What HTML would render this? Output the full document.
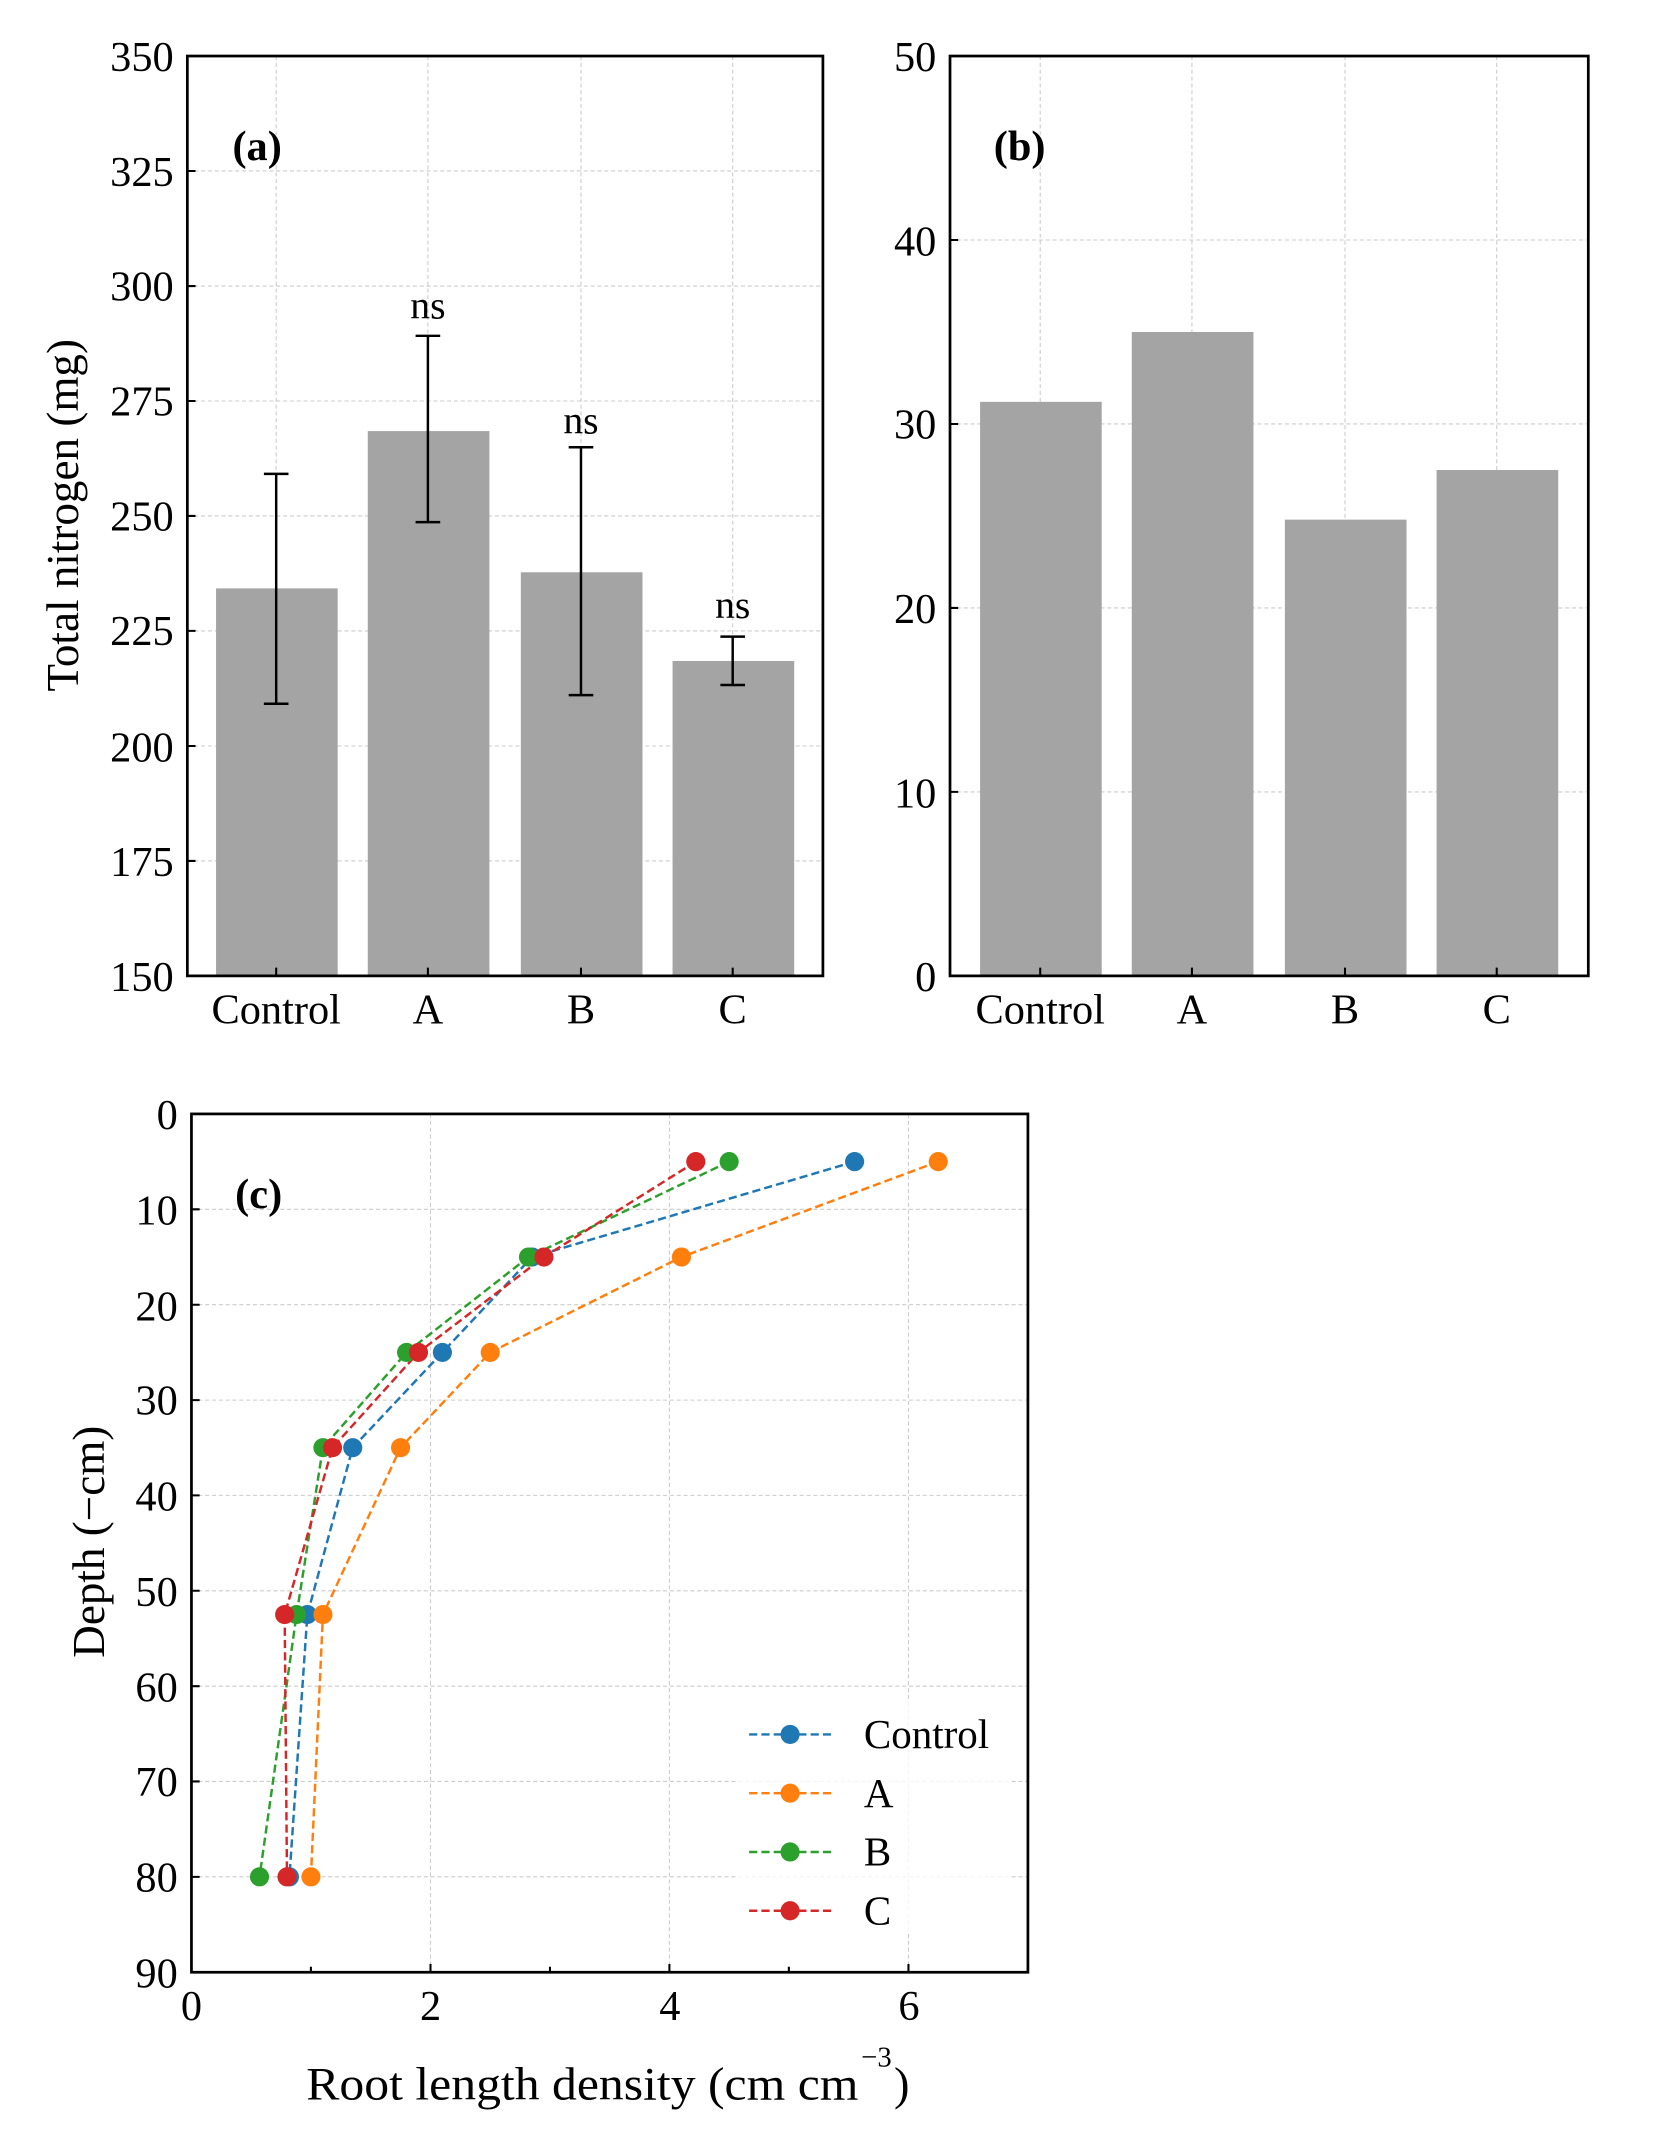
<!DOCTYPE html>
<html><head><meta charset="utf-8"><style>html,body{margin:0;padding:0;background:#fff}svg{display:block}</style></head>
<body>
<svg width="1654" height="2139" viewBox="0 0 1210 1565" xmlns="http://www.w3.org/2000/svg" font-family="Liberation Serif, serif">
<g stroke="#ccc" stroke-width="0.8" stroke-dasharray="3,2" fill="none">
<path d="M137 125.1H602M137 209.3H602M137 293.4H602M137 377.5H602M137 461.6H602M137 545.8H602M137 629.9H602"/>
<path d="M202 41V714M313 41V714M425 41V714M536 41V714"/>
<path d="M695 175.6H1162M695 310.2H1162M695 444.8H1162M695 579.4H1162"/>
<path d="M761 41V714M872 41V714M984 41V714M1095 41V714"/>
<path d="M140 884.8H752M140 954.6H752M140 1024.4H752M140 1094.1H752M140 1163.9H752M140 1233.7H752M140 1303.4H752M140 1373.2H752"/>
<path d="M314.9 815V1443M489.7 815V1443M664.6 815V1443"/>
</g>
<g fill="#a4a4a4">
<rect x="158" y="430.5" width="89" height="283.5"/>
<rect x="269" y="315.4" width="89" height="398.6"/>
<rect x="381" y="418.7" width="89" height="295.3"/>
<rect x="492" y="483.6" width="89" height="230.4"/>
</g>
<g stroke="#000" stroke-width="1.8">
<path d="M202 346.7V514.9M193 346.7H211M193 514.9H211" />
<path d="M313 245.7V382M304 245.7H322M304 382H322" />
<path d="M425 327.2V508.6M416 327.2H434M416 508.6H434" />
<path d="M536 465.8V501.2M527 465.8H545M527 501.2H545" />
</g>
<g font-size="29" text-anchor="middle">
<text x="313" y="233">ns</text><text x="425" y="317">ns</text><text x="536" y="452">ns</text>
</g>
<rect x="137" y="41" width="465" height="673" fill="none" stroke="#000" stroke-width="2"/>
<g stroke="#000" stroke-width="1.5"><path d="M137 125.1h6M137 209.3h6M137 293.4h6M137 377.5h6M137 461.6h6M137 545.8h6M137 629.9h6M202 714v-6M313 714v-6M425 714v-6M536 714v-6"/></g>
<g font-size="31" text-anchor="end">
<text x="127" y="52">350</text><text x="127" y="136">325</text><text x="127" y="220">300</text><text x="127" y="304">275</text><text x="127" y="388">250</text><text x="127" y="472">225</text><text x="127" y="557">200</text><text x="127" y="641">175</text><text x="127" y="725">150</text>
</g>
<g font-size="31" text-anchor="middle">
<text x="202" y="749">Control</text><text x="313" y="749">A</text><text x="425" y="749">B</text><text x="536" y="749">C</text>
</g>
<text x="170" y="117" font-size="31" font-weight="bold">(a)</text>
<text transform="translate(57 377) rotate(-90)" font-size="33" text-anchor="middle">Total nitrogen (mg)</text>
<g fill="#a4a4a4">
<rect x="717" y="294.0" width="89" height="420"/>
<rect x="828" y="242.9" width="89" height="471.1"/>
<rect x="940" y="380.2" width="89" height="333.8"/>
<rect x="1051" y="343.9" width="89" height="370.1"/>
</g>
<rect x="695" y="41" width="467" height="673" fill="none" stroke="#000" stroke-width="2"/>
<g stroke="#000" stroke-width="1.5"><path d="M695 175.6h6M695 310.2h6M695 444.8h6M695 579.4h6M761 714v-6M872 714v-6M984 714v-6M1095 714v-6"/></g>
<g font-size="31" text-anchor="end">
<text x="685" y="52">50</text><text x="685" y="187">40</text><text x="685" y="321">30</text><text x="685" y="456">20</text><text x="685" y="591">10</text><text x="685" y="725">0</text>
</g>
<g font-size="31" text-anchor="middle">
<text x="761" y="749">Control</text><text x="872" y="749">A</text><text x="984" y="749">B</text><text x="1095" y="749">C</text>
</g>
<text x="727" y="117" font-size="31" font-weight="bold">(b)</text>
<g fill="none" stroke-width="1.8" stroke-dasharray="6,3">
<polyline stroke="#1f77b4" points="625.2,849.9 389.2,919.7 323.6,989.5 258.0,1059.2 224.8,1181.3 211.7,1373.2"/>
<polyline stroke="#ff7f0e" points="686.4,849.9 498.5,919.7 358.6,989.5 293.0,1059.2 236.2,1181.3 227.4,1373.2"/>
<polyline stroke="#2ca02c" points="533.4,849.9 386.6,919.7 297.4,989.5 236.2,1059.2 216.9,1181.3 189.8,1373.2"/>
<polyline stroke="#d62728" points="509.0,849.9 397.9,919.7 306.1,989.5 243.2,1059.2 208.2,1181.3 209.9,1373.2"/>
</g>
<g fill="#1f77b4"><circle cx="625.2" cy="849.9" r="7"/><circle cx="389.2" cy="919.7" r="7"/><circle cx="323.6" cy="989.5" r="7"/><circle cx="258.0" cy="1059.2" r="7"/><circle cx="224.8" cy="1181.3" r="7"/><circle cx="211.7" cy="1373.2" r="7"/></g>
<g fill="#ff7f0e"><circle cx="686.4" cy="849.9" r="7"/><circle cx="498.5" cy="919.7" r="7"/><circle cx="358.6" cy="989.5" r="7"/><circle cx="293.0" cy="1059.2" r="7"/><circle cx="236.2" cy="1181.3" r="7"/><circle cx="227.4" cy="1373.2" r="7"/></g>
<g fill="#2ca02c"><circle cx="533.4" cy="849.9" r="7"/><circle cx="386.6" cy="919.7" r="7"/><circle cx="297.4" cy="989.5" r="7"/><circle cx="236.2" cy="1059.2" r="7"/><circle cx="216.9" cy="1181.3" r="7"/><circle cx="189.8" cy="1373.2" r="7"/></g>
<g fill="#d62728"><circle cx="509.0" cy="849.9" r="7"/><circle cx="397.9" cy="919.7" r="7"/><circle cx="306.1" cy="989.5" r="7"/><circle cx="243.2" cy="1059.2" r="7"/><circle cx="208.2" cy="1181.3" r="7"/><circle cx="209.9" cy="1373.2" r="7"/></g>
<rect x="540" y="1245" width="200" height="170" fill="#fff" opacity="0.8"/>
<g stroke-width="1.8" stroke-dasharray="6,3">
<path d="M548 1269H608" stroke="#1f77b4"/><path d="M548 1312H608" stroke="#ff7f0e"/><path d="M548 1355H608" stroke="#2ca02c"/><path d="M548 1398H608" stroke="#d62728"/>
</g>
<circle cx="578" cy="1269" r="7" fill="#1f77b4"/><circle cx="578" cy="1312" r="7" fill="#ff7f0e"/><circle cx="578" cy="1355" r="7" fill="#2ca02c"/><circle cx="578" cy="1398" r="7" fill="#d62728"/>
<g font-size="30"><text x="632" y="1279">Control</text><text x="632" y="1322">A</text><text x="632" y="1365">B</text><text x="632" y="1408">C</text></g>
<rect x="140" y="815" width="612" height="628" fill="none" stroke="#000" stroke-width="2"/>
<g stroke="#000" stroke-width="1.5"><path d="M140 884.8h6M140 954.6h6M140 1024.4h6M140 1094.1h6M140 1163.9h6M140 1233.7h6M140 1303.4h6M140 1373.2h6M227.4 1443v-4M314.9 1443v-6M402.3 1443v-4M489.7 1443v-6M577.1 1443v-4M664.6 1443v-6"/></g>
<g font-size="31" text-anchor="end">
<text x="130" y="826">0</text><text x="130" y="896">10</text><text x="130" y="966">20</text><text x="130" y="1035">30</text><text x="130" y="1105">40</text><text x="130" y="1175">50</text><text x="130" y="1245">60</text><text x="130" y="1314">70</text><text x="130" y="1384">80</text><text x="130" y="1454">90</text>
</g>
<g font-size="31" text-anchor="middle">
<text x="140" y="1478">0</text><text x="315" y="1478">2</text><text x="490" y="1478">4</text><text x="665" y="1478">6</text>
</g>
<text x="172" y="884" font-size="31" font-weight="bold">(c)</text>
<text transform="translate(76 1128) rotate(-90)" font-size="33" text-anchor="middle">Depth (−cm)</text>
<text x="224" y="1536" font-size="34" textLength="404" lengthAdjust="spacingAndGlyphs">Root length density (cm cm</text>
<text x="630" y="1512" font-size="21">−3</text>
<text x="654" y="1536" font-size="34">)</text>
</svg>
</body></html>
